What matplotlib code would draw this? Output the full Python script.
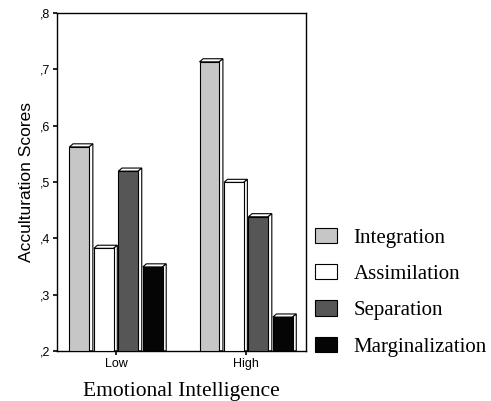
import numpy as np
import matplotlib
matplotlib.use("Agg")
import matplotlib.pyplot as plt
from matplotlib.patches import Polygon, Patch

groups = ["Low", "High"]
series = ["Integration", "Assimilation", "Separation", "Marginalization"]
integration = [0.562, 0.713]
assimilation = [0.382, 0.499]
separation = [0.519, 0.438]
marginalization = [0.349, 0.26]
yticks = [0.2, 0.3, 0.4, 0.5, 0.6, 0.7, 0.8]
yticklabels = [",2", ",3", ",4", ",5", ",6", ",7", ",8"]

values = [integration, assimilation, separation, marginalization]
colors = ["#c6c6c6", "#ffffff", "#565656", "#050505"]

fig = plt.figure(figsize=(4.91, 4.01), dpi=100)
ax = fig.add_axes([0.116, 0.125, 0.507, 0.843])

x = np.arange(len(groups))
w = 0.152
step = 0.188
# depth of the fake 3d bars in data units
dx, dy = 0.028, 0.0055

for i, (vals, c) in enumerate(zip(values, colors)):
    pos = x + (i - 1.5) * step
    ax.bar(pos, np.array(vals) - 0.2, w, bottom=0.2, color=c,
           edgecolor="black", linewidth=0.8, zorder=3)
    for p, v in zip(pos, vals):
        l, r = p - w / 2, p + w / 2
        top = Polygon([[l, v], [l + dx, v + dy], [r + dx, v + dy], [r, v]],
                      closed=True, facecolor="white", edgecolor="black",
                      linewidth=0.8, zorder=2)
        side = Polygon([[r, v], [r + dx, v + dy], [r + dx, 0.2], [r, 0.2]],
                       closed=True, facecolor="white", edgecolor="black",
                       linewidth=0.8, zorder=2)
        ax.add_patch(top)
        ax.add_patch(side)

ax.set_xlim(-0.454, 1.46)
ax.set_ylim(0.2, 0.8)
ax.set_yticks(yticks)
ax.set_yticklabels(yticklabels, family="Liberation Sans", fontsize=9)
ax.set_xticks(x)
ax.set_xticklabels(groups, family="Liberation Sans", fontsize=9)
ax.tick_params(axis="both", length=3, width=1.2, direction="out", pad=2)
for s in ax.spines.values():
    s.set_linewidth(1.0)

ax.set_ylabel("Acculturation Scores", family="Liberation Sans", fontsize=12.5, labelpad=4)
ax.set_xlabel("Emotional Intelligence", family="Liberation Serif", fontsize=15.5, labelpad=9)

handles = [Patch(facecolor=c, edgecolor="black", linewidth=0.8) for c in colors]
fig.legend(handles, series, loc="upper left", bbox_to_anchor=(0.642, 0.432),
           frameon=False, prop={"family": "Liberation Serif", "size": 15},
           borderpad=0, borderaxespad=0,
           handlelength=1.06, handleheight=0.75, labelspacing=0.79, handletextpad=0.77)

fig.savefig("out.png", dpi=100)
